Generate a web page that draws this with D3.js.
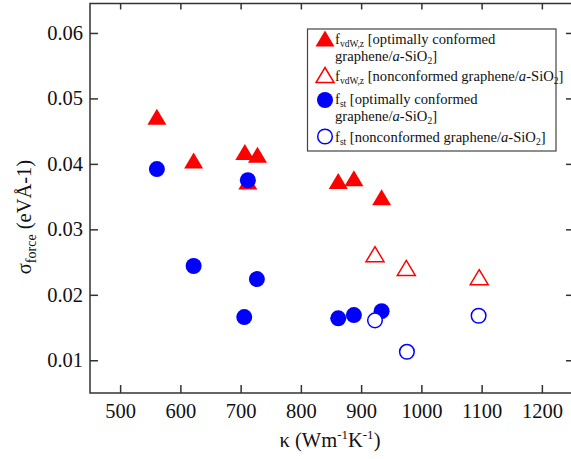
<!DOCTYPE html>
<html>
<head>
<meta charset="utf-8">
<script src="https://cdn.jsdelivr.net/npm/d3@7"></script>
</head>
<body style="margin:0; background:white">
<svg id="chart"></svg>
<script>
// kappa (W m-1 K-1) and sigma_force values
let kappaVdwOpt = [561, 622, 707, 712, 728, 862, 888, 934]
let sigmaVdwOpt = [0.0472, 0.0405, 0.0418, 0.0373, 0.0414, 0.0374, 0.0378, 0.0349]

let kappaVdwNon = [923, 975, 1096]
let sigmaVdwNon = [0.0262, 0.0241, 0.0227]

let kappaStOpt = [561, 622, 706, 712, 727, 862, 888, 934]
let sigmaStOpt = [0.0392, 0.0244, 0.0166, 0.0375, 0.0224, 0.0164, 0.0169, 0.0175]

let kappaStNon = [923, 976, 1095]
let sigmaStNon = [0.0161, 0.0113, 0.0168]

let xTicks = [500, 600, 700, 800, 900, 1000, 1100, 1200]
let yTicks = [0.01, 0.02, 0.03, 0.04, 0.05, 0.06]

let width = 571
let height = 459
let plotLeft = 90, plotRight = 572, plotTop = 3.5, plotBottom = 393
let serif = "'Liberation Serif', 'Times New Roman', serif"

let svg = d3.select("#chart")
    .attr("width", width)
    .attr("height", height)
    .style("font-family", serif)

let x = d3.scaleLinear().domain([450, 1250]).range([plotLeft, plotRight])
let y = d3.scaleLinear().domain([0.005, 0.0645]).range([plotBottom, plotTop])

let axisColor = "#333"

// frame
svg.append("rect")
    .attr("x", plotLeft).attr("y", plotTop)
    .attr("width", plotRight - plotLeft).attr("height", plotBottom - plotTop)
    .attr("fill", "none")
    .attr("stroke", axisColor)
    .attr("stroke-width", 1.5)

// axes with inside ticks, mirrored on top and right
let gx = svg.append("g").attr("transform", `translate(0,${plotBottom})`)
    .call(d3.axisBottom(x).tickValues(xTicks).tickSize(-8).tickPadding(10).tickFormat(d3.format("d")))
let gxTop = svg.append("g").attr("transform", `translate(0,${plotTop})`)
    .call(d3.axisTop(x).tickValues(xTicks).tickSize(-6).tickFormat(""))
let gy = svg.append("g").attr("transform", `translate(${plotLeft},0)`)
    .call(d3.axisLeft(y).tickValues(yTicks).tickSize(-8).tickPadding(7).tickFormat(d3.format(".2f")))
let gyRight = svg.append("g").attr("transform", `translate(${plotRight},0)`)
    .call(d3.axisRight(y).tickValues(yTicks).tickSize(-6).tickFormat(""))

;[gx, gxTop, gy, gyRight].forEach(g => {
    g.select(".domain").remove()
    g.selectAll(".tick line").attr("stroke", axisColor).attr("stroke-width", 1.5)
    g.selectAll(".tick text").attr("fill", "#111")
        .style("font-size", "20.5px")
        .style("font-family", serif)
})

// axis titles
let xLabel = svg.append("text")
    .attr("x", 330).attr("y", 447)
    .attr("text-anchor", "middle")
    .style("font-size", "20.5px")
    .style("font-family", serif)
    .attr("fill", "#111")
xLabel.append("tspan").text("κ (Wm")
xLabel.append("tspan").text("-1").style("font-size", "13px").attr("dy", -8)
xLabel.append("tspan").text("K").attr("dy", 8)
xLabel.append("tspan").text("-1").style("font-size", "13px").attr("dy", -8)
xLabel.append("tspan").text(")").attr("dy", 8)

let yLabel = svg.append("text")
    .attr("transform", "translate(31,217) rotate(-90)")
    .attr("text-anchor", "middle")
    .style("font-size", "20.5px")
    .style("font-family", serif)
    .attr("fill", "#111")
yLabel.append("tspan").text("σ")
yLabel.append("tspan").text("force").style("font-size", "14px").attr("dy", 5)
yLabel.append("tspan").text(" (eVÅ-1)").attr("dy", -5)

// markers
let red = "#ff0000", blue = "#0000ff"
let tri = "M0,-8L9.5,8L-9.5,8Z"
let triSmall = "M0,-7.5L9,7.5L-9,7.5Z"

function zip(xs, ys) { return xs.map((k, i) => ({k: k, s: ys[i]})) }

let plot = svg.append("g")

plot.selectAll(".tri-fill").data(zip(kappaVdwOpt, sigmaVdwOpt)).enter()
    .append("path")
    .attr("class", "tri-fill")
    .attr("d", tri)
    .attr("transform", d => `translate(${x(d.k)},${y(d.s)})`)
    .attr("fill", red)

plot.selectAll(".circ-fill").data(zip(kappaStOpt, sigmaStOpt)).enter()
    .append("circle")
    .attr("class", "circ-fill")
    .attr("cx", d => x(d.k)).attr("cy", d => y(d.s))
    .attr("r", 8)
    .attr("fill", blue)

plot.selectAll(".tri-open").data(zip(kappaVdwNon, sigmaVdwNon)).enter()
    .append("path")
    .attr("class", "tri-open")
    .attr("d", triSmall)
    .attr("transform", d => `translate(${x(d.k)},${y(d.s)})`)
    .attr("fill", "white")
    .attr("stroke", red)
    .attr("stroke-width", 1.5)

plot.selectAll(".circ-open").data(zip(kappaStNon, sigmaStNon)).enter()
    .append("circle")
    .attr("class", "circ-open")
    .attr("cx", d => x(d.k)).attr("cy", d => y(d.s))
    .attr("r", 7.3)
    .attr("fill", "white")
    .attr("stroke", blue)
    .attr("stroke-width", 1.5)

// legend
let legend = svg.append("g")
legend.append("rect")
    .attr("x", 307.5).attr("y", 29)
    .attr("width", 248.5).attr("height", 122)
    .attr("fill", "white")
    .attr("stroke", "#444")
    .attr("stroke-width", 1.2)

let lx = 325, tx = 335, fs = "14.6px", subFs = "9.5px"

// "a" italic and "2" subscript in graphene/a-SiO2
function appendRich(t, s) {
    let parts = s.split(/(\{a\}|\{2\})/)
    let shifted = false
    parts.forEach(p => {
        if (p === "") return
        if (p === "{a}") {
            t.append("tspan").text("a").style("font-style", "italic").attr("dy", shifted ? -3 : 0)
            shifted = false
        } else if (p === "{2}") {
            t.append("tspan").text("2").style("font-size", subFs).attr("dy", 3)
            shifted = true
        } else {
            t.append("tspan").text(p).attr("dy", shifted ? -3 : 0)
            shifted = false
        }
    })
}

function legendText(yb) {
    return legend.append("text").attr("x", tx).attr("y", yb)
        .style("font-size", fs).style("font-family", serif).attr("fill", "#111")
}

function label(yb, sub, text1, text2) {
    let t = legendText(yb)
    t.append("tspan").text("f")
    t.append("tspan").text(sub).style("font-size", subFs).attr("dy", 3)
    let parts = text1.split(/(\{a\}|\{2\})/)
    // first chunk goes back up to the baseline
    t.append("tspan").text(parts[0]).attr("dy", -3)
    appendRich(t, parts.slice(1).join(""))
    if (text2) appendRich(legendText(yb + 17), text2)
}

legend.append("path").attr("d", tri).attr("transform", `translate(${lx},38.5)`).attr("fill", red)
label(43.5, "vdW,z", " [optimally conformed", "graphene/{a}-SiO{2}]")

legend.append("path").attr("d", triSmall).attr("transform", `translate(${lx},75)`)
    .attr("fill", "white").attr("stroke", red).attr("stroke-width", 1.5)
label(80.5, "vdW,z", " [nonconformed graphene/{a}-SiO{2}]")

legend.append("circle").attr("cx", lx).attr("cy", 100).attr("r", 8).attr("fill", blue)
label(104, "st", " [optimally conformed", "graphene/{a}-SiO{2}]")

legend.append("circle").attr("cx", lx).attr("cy", 136.5).attr("r", 7.3)
    .attr("fill", "white").attr("stroke", blue).attr("stroke-width", 1.5)
label(141.5, "st", " [nonconformed graphene/{a}-SiO{2}]")
</script>
</body>
</html>
